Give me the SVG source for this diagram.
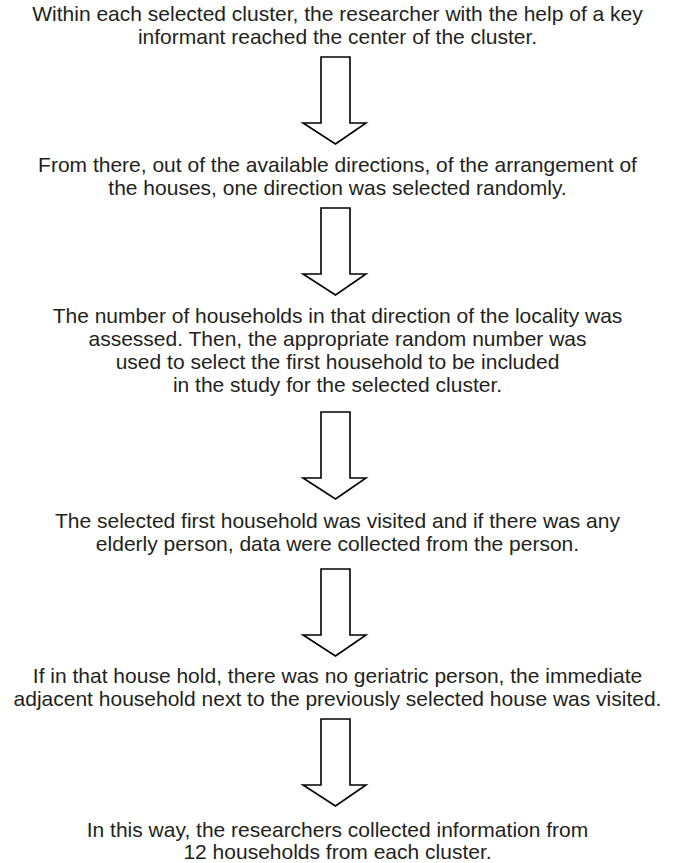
<svg xmlns="http://www.w3.org/2000/svg" width="675" height="863" viewBox="0 0 675 863">
<style>
text{font-family:"Liberation Sans",Arial,sans-serif;font-size:21px;fill:#231f20;text-anchor:middle}
.arr{fill:#fff;stroke:#000;stroke-width:1.6;stroke-linejoin:miter}
</style>
<defs>
<path id="a" d="M321,0 H350 V66 H366 L335.5,87 L303,66 H321 Z"/>
</defs>
<rect width="675" height="863" fill="#fff"/>
<g id="n1"><text x="337.5" y="21">Within each selected cluster, the researcher with the help of a key</text><text x="337.5" y="44">informant reached the center of the cluster.</text></g>
<g id="n2"><text x="337.5" y="172">From there, out of the available directions, of the arrangement of</text><text x="337.5" y="195">the houses, one direction was selected randomly.</text></g>
<g id="n3"><text x="337.5" y="323">The number of households in that direction of the locality was</text><text x="337.5" y="346">assessed. Then, the appropriate random number was</text><text x="337.5" y="369">used to select the first household to be included</text><text x="337.5" y="392">in the study for the selected cluster.</text></g>
<g id="n4"><text x="337.5" y="528">The selected first household was visited and if there was any</text><text x="337.5" y="551">elderly person, data were collected from the person.</text></g>
<g id="n5"><text x="337.5" y="683">If in that house hold, there was no geriatric person, the immediate</text><text x="337.5" y="706">adjacent household next to the previously selected house was visited.</text></g>
<g id="n6"><text x="337.5" y="837">In this way, the researchers collected information from</text><text x="337.5" y="859">12 households from each cluster.</text></g>
<g id="connectors">
<use href="#a" class="arr" y="57"/>
<use href="#a" class="arr" y="208"/>
<use href="#a" class="arr" y="412"/>
<use href="#a" class="arr" y="569"/>
<use href="#a" class="arr" y="719"/>
</g>
</svg>
